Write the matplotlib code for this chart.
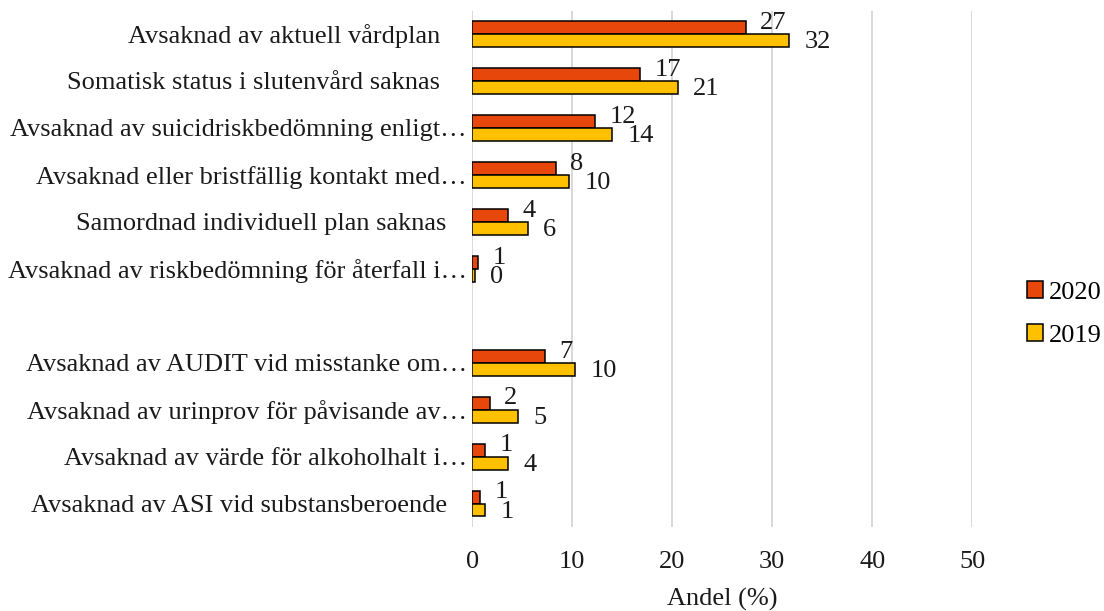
import matplotlib
matplotlib.use("Agg")
import matplotlib.pyplot as plt
import numpy as np

plt.rcParams['font.family'] = ['Liberation Serif', 'DejaVu Serif']

# categories top to bottom ('' = empty slot in the original chart)
categories = [
    "Avsaknad av aktuell vårdplan    ",
    "Somatisk status i slutenvård saknas    ",
    "Avsaknad av suicidriskbedömning enligt…",
    "Avsaknad eller bristfällig kontakt med…",
    "Samordnad individuell plan saknas   ",
    "Avsaknad av riskbedömning för återfall i…",
    "",
    "Avsaknad av AUDIT vid misstanke om…",
    "Avsaknad av urinprov för påvisande av…",
    "Avsaknad av värde för alkoholhalt i…",
    "Avsaknad av ASI vid substansberoende   ",
]
values_2020 = [27.4, 16.8, 12.3, 8.4, 3.6, 0.6, np.nan, 7.3, 1.8, 1.3, 0.8]
values_2019 = [31.7, 20.6, 14.0, 9.7, 5.6, 0.3, np.nan, 10.3, 4.6, 3.6, 1.3]
series_names = ["2020", "2019"]
colors = ["#E8470C", "#FFC000"]
x_ticks = [0, 10, 20, 30, 40, 50]

fig = plt.figure(figsize=(11.04, 6.11), dpi=100)
ax = fig.add_axes([0.4278, 0.1370, 0.4529, 0.8458])

y = np.arange(len(categories))
h = 0.27
ax.barh(y - h / 2, values_2020, height=h, color=colors[0],
        edgecolor="black", linewidth=1.1, label=series_names[0], zorder=3)
ax.barh(y + h / 2, values_2019, height=h, color=colors[1],
        edgecolor="black", linewidth=1.1, label=series_names[1], zorder=3)

# data labels, Excel-style rounded to whole percent
for yy, v in zip(y - h / 2, values_2020):
    if np.isnan(v):
        continue
    ax.annotate("%.0f" % v, (v, yy), xytext=(14, 5), textcoords="offset pixels",
                ha="left", va="center", fontsize=19, color="#1a1a1a")
for yy, v in zip(y + h / 2, values_2019):
    if np.isnan(v):
        continue
    ax.annotate("%.0f" % v, (v, yy), xytext=(15, -2), textcoords="offset pixels",
                ha="left", va="center", fontsize=19, color="#1a1a1a")

ax.set_xlim(0, 50)
ax.set_ylim(len(categories) - 0.5, -0.5)
ax.set_xticks(x_ticks)
ax.set_yticks(y)
ax.set_yticklabels(categories, fontsize=19, color="#1a1a1a")
ax.tick_params(axis="x", length=0, pad=17, labelsize=19, labelcolor="#1a1a1a")
ax.tick_params(axis="y", length=0, pad=4)
ax.grid(axis="x", color="#D6D6D6", linewidth=1.3, zorder=0)
ax.set_axisbelow(True)
for s in ax.spines.values():
    s.set_visible(False)
ax.set_xlabel("Andel (%)", fontsize=19, color="#1a1a1a", labelpad=10.5)

ax.legend(loc="center left", bbox_to_anchor=(0.930, 0.486), bbox_transform=fig.transFigure,
          frameon=False, fontsize=19, handlelength=0.62, handleheight=0.62,
          handletextpad=0.22, labelspacing=0.75, borderpad=0, borderaxespad=0)

fig.savefig("out.png", dpi=100)
